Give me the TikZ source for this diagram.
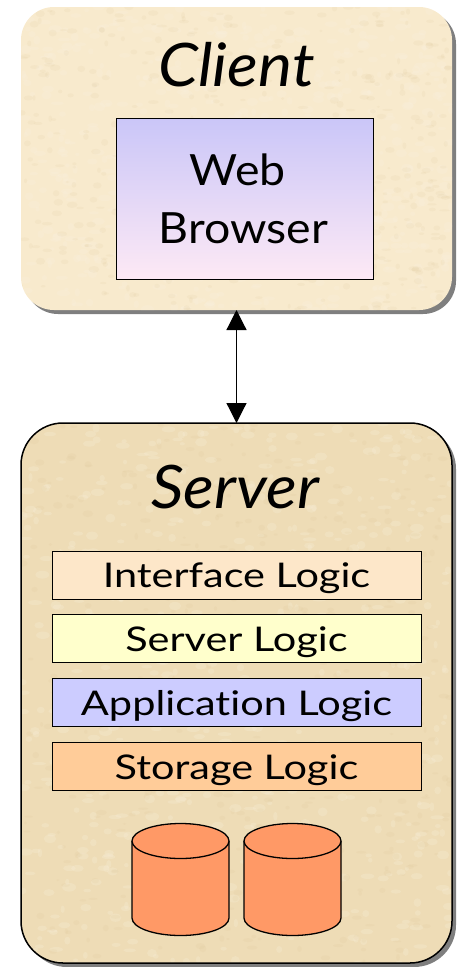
\documentclass[tikz,border=0pt]{standalone}
\usepackage{fontspec}
\setmainfont[Ligatures=NoCommon]{Lato}
\newfontfamily\layerfont[FakeStretch=1.22, Ligatures=NoCommon]{Lato}
\newfontfamily\boxfont[FakeStretch=1.08]{Lato}
\newfontfamily\titlefont[FakeStretch=1.07]{Lato}
\usetikzlibrary{shadows,arrows.meta}

\definecolor{clientbg}{HTML}{F8EACD}
\definecolor{serverbg}{HTML}{EEDCB6}
\definecolor{mottlelight}{HTML}{FBF3E2}
\definecolor{mottledark}{HTML}{D6BC8A}
\definecolor{browsertop}{HTML}{CAC6F8}
\definecolor{browserbot}{HTML}{FDE9F5}
\definecolor{ifacefill}{HTML}{FDE7C9}
\definecolor{srvfill}{HTML}{FFFFCC}
\definecolor{appfill}{HTML}{CCCCFF}
\definecolor{storefill}{HTML}{FFCC99}
\definecolor{dbfill}{HTML}{FF9966}

\tikzset{
  tier/.style={inner sep=0pt, outer sep=0pt, minimum width=431pt,
    drop shadow={shadow xshift=4pt, shadow yshift=-4pt, fill=black, opacity=.5}},
  title/.style={anchor=base, inner sep=0pt, font=\titlefont\itshape\fontsize{60}{60}\selectfont},
  boxtext/.style={anchor=base, inner sep=0pt, font=\boxfont\fontsize{43}{43}\selectfont},
  layer/.style={draw, line width=1pt, inner sep=0pt, minimum width=369pt,
    minimum height=48pt, text height=25pt, text depth=0pt,
    font=\layerfont\fontsize{34}{34}\selectfont},
  db/.pic={
    \fill[dbfill] (-48.5,0) -- (-48.5,77)
      arc[start angle=180, end angle=360, x radius=48.5pt, y radius=17.5pt]
      -- (48.5,0) -- cycle;
    \draw[line width=1.3pt] (-48.5,0) -- (-48.5,77)
      arc[start angle=180, end angle=360, x radius=48.5pt, y radius=17.5pt]
      -- (48.5,0);
    \draw[line width=1.3pt, fill=dbfill] (0,0) ellipse[x radius=48.5pt, y radius=17.5pt];
  }
}

% fine parchment grain inside a rounded panel: #1 radius, #2/#3 x range, #4/#5 y range
\newcommand{\mottle}[5]{%
  \begin{scope}
    \clip[rounded corners=#1] (#2,#4) rectangle (#3,#5);
    \foreach \k in {1,...,700}{
      \pgfmathsetmacro\px{#2+(#3-#2)*rnd}
      \pgfmathsetmacro\py{#4+(#5-#4)*rnd}
      \pgfmathsetmacro\pa{2+5*rnd}
      \pgfmathsetmacro\pb{1.5+3*rnd}
      \fill[mottlelight, opacity=.22] (\px,\py) ellipse[x radius=\pa pt, y radius=\pb pt];
    }
    \foreach \k in {1,...,500}{
      \pgfmathsetmacro\px{#2+(#3-#2)*rnd}
      \pgfmathsetmacro\py{#4+(#5-#4)*rnd}
      \pgfmathsetmacro\pa{1.5+4*rnd}
      \pgfmathsetmacro\pb{1+2.5*rnd}
      \fill[mottledark, opacity=.10] (\px,\py) ellipse[x radius=\pa pt, y radius=\pb pt];
    }
  \end{scope}}

\begin{document}
\begin{tikzpicture}[x=1pt, y=-1pt]
\pgfmathsetseed{4711}
\useasboundingbox (0,0) rectangle (459,967);

% client tier
\node[tier, fill=clientbg, rounded corners=33pt, minimum height=303pt] (client) at (236.5,158.5) {};
\mottle{33pt}{21}{452}{7}{310}
\node[title] (clientname) at (236.5,86) {Client};
\node[draw, line width=1pt, inner sep=0pt, minimum width=257pt, minimum height=161pt,
      top color=browsertop, bottom color=browserbot] (browser) at (244.5,198.5) {};
\node[boxtext] (web) at (237.5,185) {Web};
\node[boxtext] (browsername) at (243.5,243) {Browser};

% server tier
\node[tier, fill=serverbg, rounded corners=42pt, minimum height=540pt] (server) at (236.5,693) {};
\mottle{42pt}{21}{452}{423}{963}
\draw[line width=1.5pt, rounded corners=42pt] (server.north west) rectangle (server.south east);
\node[title] (servername) at (235,508) {Server};

\node[layer, fill=ifacefill] (iface) at (236.5,575) {Interface Logic};
\node[layer, fill=srvfill] (srvlogic) at (236.5,638.5) {Server Logic};
\node[layer, fill=appfill] (applogic) at (236.5,702.5) {Application Logic};
\node[layer, fill=storefill] (storage) at (236.5,766.5) {Storage Logic};

% databases
\pic at (180.5,841) {db};
\pic at (292.5,841) {db};

% request/response link
\draw[line width=1.2pt, {Triangle[width=20pt,length=20pt]}-{Triangle[width=20pt,length=20pt]}]
  (client.south) -- (server.north);
\end{tikzpicture}
\end{document}
